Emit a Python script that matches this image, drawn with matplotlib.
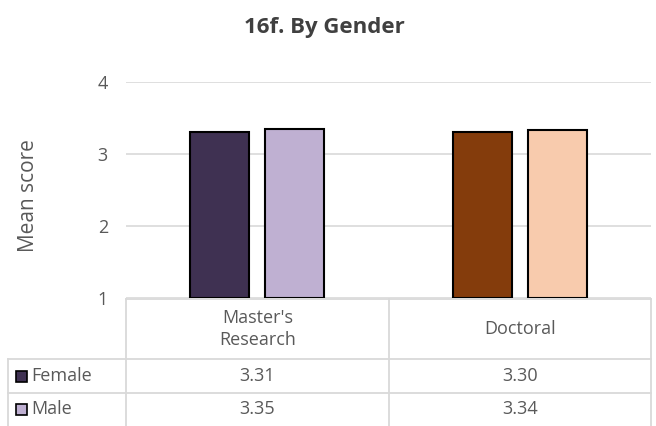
import matplotlib.pyplot as plt
from matplotlib.patches import Rectangle
from matplotlib.transforms import blended_transform_factory

plt.rcParams['font.family'] = ['Open Sans', 'DejaVu Sans']

# data
categories = ["Master's\nResearch", "Doctoral"]
series = ["Female", "Male"]
female = [3.31, 3.30]
male = [3.35, 3.34]
bar_colors = [["#3F3152", "#843C0C"],   # Female: Master's, Doctoral
              ["#BFB0D2", "#F8CBAD"]]   # Male
legend_colors = ["#3F3152", "#BFB0D2"]

W, H = 656, 426
grey = "#595959"
line_grey = "#D9D9D9"

fig = plt.figure(figsize=(W / 100, H / 100), dpi=100)

# plot area in pixels
left, right, top, bottom = 126, 651, 82, 298
ax = fig.add_axes([left / W, (H - bottom) / H, (right - left) / W, (bottom - top) / H])

x = list(range(len(categories)))
bw = 0.225
off = 0.143
for i, vals in enumerate([female, male]):
    xs = [xi + (2 * i - 1) * off for xi in x]
    ax.bar(xs, [v - 1 for v in vals], width=bw, bottom=1,
           color=bar_colors[i], edgecolor="black", linewidth=1.5, zorder=3)

ax.set_xlim(-0.5, len(categories) - 0.5)
ax.set_ylim(1, 4)
ax.set_yticks([1, 2, 3, 4])
ax.grid(axis="y", color=line_grey, linewidth=1.2, zorder=0)
ax.set_xticks([])
for s in ax.spines.values():
    s.set_visible(False)
ax.tick_params(axis="y", length=0, labelsize=13, labelcolor=grey, pad=13)
ax.set_ylabel("Mean score", fontsize=15, color=grey)
ax.yaxis.set_label_coords((39 - left) / (right - left), (bottom - 196) / (bottom - top))

fig.text(324 / W, 1 - 27 / H, "16f. By Gender", ha="center", va="center",
         fontsize=16, fontweight="bold", color="#404040")

# overlay in pixel coordinates for the data table
ov = fig.add_axes([0, 0, 1, 1], facecolor="none")
ov.set_xlim(0, W)
ov.set_ylim(H, 0)
ov.axis("off")

row_top = [299, 359, 393]
row_bot = [359, 393, 427]
lw = 1.3
ov.plot([left, right], [row_top[0]] * 2, color=line_grey, lw=lw)
for y in row_top[1:]:
    ov.plot([8, right], [y, y], color=line_grey, lw=lw)
for xv in [left, (left + right) / 2, right]:
    ov.plot([xv, xv], [row_top[0], H], color=line_grey, lw=lw)
ov.plot([8, 8], [row_top[1], H], color=line_grey, lw=lw)

tr = blended_transform_factory(ax.transData, ov.transData)
hdr_y = (row_top[0] + row_bot[0]) / 2
for xi, c in zip(x, categories):
    ov.text(xi, hdr_y, c, transform=tr, ha="center", va="center",
            fontsize=13, color=grey, linespacing=1.25)

for r, (name, vals) in enumerate(zip(series, [female, male])):
    yc = (row_top[r + 1] + min(row_bot[r + 1], 425)) / 2
    ov.add_patch(Rectangle((16, yc - 5.5), 11, 11, facecolor=legend_colors[r],
                           edgecolor="black", lw=1.2))
    ov.text(31, yc, name, ha="left", va="center", fontsize=13, color=grey)
    for xi, v in zip(x, vals):
        ov.text(xi, yc, f"{v:.2f}", transform=tr, ha="center", va="center",
                fontsize=13, color=grey)

fig.savefig("out.png", dpi=100)
